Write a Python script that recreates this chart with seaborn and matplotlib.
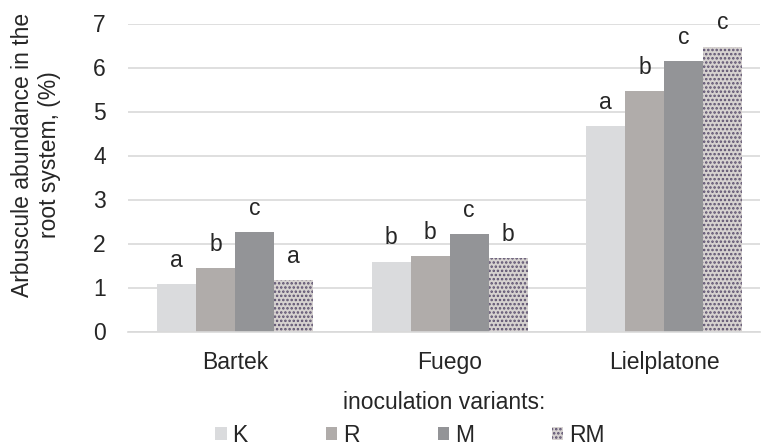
import pandas as pd
import seaborn as sns
import matplotlib.pyplot as plt
from matplotlib.patches import Patch

varieties = ['Bartek', 'Fuego', 'Lielplatone']
variants = ['K', 'R', 'M', 'RM']
K = [1.08, 1.59, 4.67]
R = [1.44, 1.71, 5.46]
M = [2.26, 2.21, 6.15]
RM = [1.16, 1.66, 6.47]
letters_K = ['a', 'b', 'a']
letters_R = ['b', 'b', 'b']
letters_M = ['c', 'c', 'c']
letters_RM = ['a', 'b', 'c']

colors = ['#dadbdd', '#b0acaa', '#939497', '#d6d2d0']
hatch_col = '#5b4f6e'

sns.set_theme(style='white')
plt.rcParams['font.family'] = ['Liberation Sans', 'DejaVu Sans']
plt.rcParams['hatch.linewidth'] = 1.2
FS = 16.5

df = pd.DataFrame({'variety': varieties * 4,
                   'variant': sum([[v] * 3 for v in variants], []),
                   'value': K + R + M + RM})

fig = plt.figure(figsize=(7.62, 4.47), dpi=100)
ax = fig.add_axes([128 / 762, 1 - 331.5 / 447, 632 / 762, 308 / 447])

sns.barplot(data=df, x='variety', y='value', hue='variant', hue_order=variants,
            palette=colors, saturation=1, width=0.727, ax=ax, legend=False,
            linewidth=0)

# pattern fill for the RM bars
for bar in ax.containers[3]:
    bar.set_hatch('....')
    bar.set_edgecolor(hatch_col)
    bar.set_linewidth(0)

all_letters = [letters_K, letters_R, letters_M, letters_RM]
for cont, lets in zip(ax.containers, all_letters):
    for bar, t in zip(cont, lets):
        ax.annotate(t, (bar.get_x() + bar.get_width() / 2, bar.get_height()),
                    xytext=(0, 12.5), textcoords='offset points',
                    ha='center', va='baseline', fontsize=FS, color='#262626')

ax.set_ylim(0, 7)
ax.set_xlim(-0.5, -0.5 + 632 / 214.5)
ax.set_yticks(range(8))
ax.yaxis.grid(True, color='#d9d9d9', linewidth=1.2)
ax.set_axisbelow(True)
for s in ['top', 'right', 'left']:
    ax.spines[s].set_visible(False)
ax.spines['bottom'].set_color('#d9d9d9')
ax.spines['bottom'].set_linewidth(1.2)
ax.tick_params(axis='both', length=0, labelsize=FS, labelcolor='#262626')
ax.tick_params(axis='y', pad=16)
ax.tick_params(axis='x', pad=14)
ax.set_ylabel('Arbuscule abundance in the\nroot system, (%)', fontsize=FS,
              color='#262626')
ax.yaxis.set_label_coords(-0.106, 0.573)
ax.set_xlabel('inoculation variants:', fontsize=FS, color='#262626', labelpad=12)

handles = []
for v, c in zip(variants, colors):
    if v == 'RM':
        handles.append(Patch(facecolor=c, edgecolor=hatch_col, hatch='....', linewidth=0))
    else:
        handles.append(Patch(facecolor=c, linewidth=0))
fig.legend(handles, variants, loc='center', bbox_to_anchor=(410 / 762, 1 - 435 / 447),
           ncol=4, frameon=False, fontsize=FS, handlelength=0.5, handleheight=0.5,
           handletextpad=0.26, columnspacing=3.4, labelcolor='#262626')

fig.savefig('out.png', dpi=100)
